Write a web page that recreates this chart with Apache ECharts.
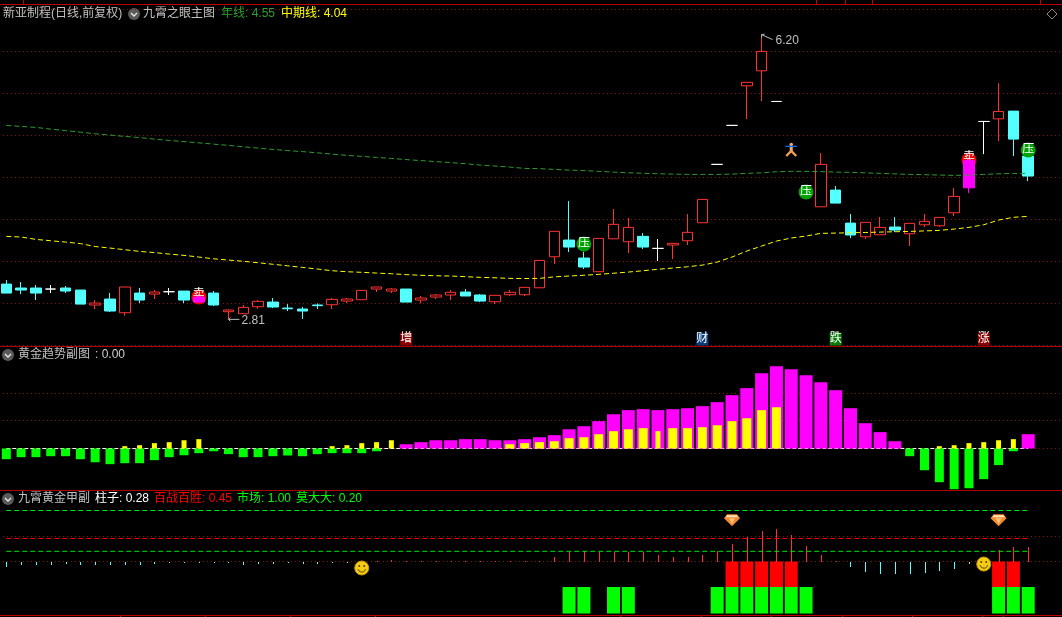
<!DOCTYPE html>
<html><head><meta charset="utf-8">
<style>html,body{margin:0;padding:0;background:#000;overflow:hidden}#c{width:1062px;height:617px}</style>
<script src="https://cdn.jsdelivr.net/npm/echarts@6/dist/echarts.min.js"></script>
</head><body><div id="c"></div>
<script>
// ---------- candles (price) ----------
const opens  = [3.23,3.183,3.183,3.171,3.183,3.159,2.981,3.052,2.889,3.123,3.111,3.139,3.147,3.076,3.123,2.901,2.877,2.96,3.016,2.945,2.933,2.981,2.984,3.028,3.044,3.171,3.147,3.171,3.04,3.076,3.1,3.135,3.1,3.02,3.103,3.103,3.186,3.555,3.754,3.54,3.377,3.769,3.734,3.798,3.655,3.695,3.746,3.96,4.655,5.119,5.59,5.769,5.404,4.869,4.29,4.15,4.349,3.956,3.793,3.817,3.909,3.829,3.936,3.924,4.079,4.702,5.166,5.197,5.289,4.754];
const closes = [3.123,3.159,3.123,3.171,3.147,2.992,3.004,2.909,3.195,3.04,3.135,3.139,3.04,3.016,2.981,2.921,2.953,3.025,2.957,2.936,2.909,2.973,3.048,3.052,3.155,3.195,3.171,3.016,3.064,3.1,3.132,3.088,3.028,3.096,3.132,3.191,3.512,3.858,3.671,3.433,3.774,3.941,3.905,3.671,3.655,3.715,3.846,4.238,4.655,5.119,5.631,6.0,5.404,4.869,4.29,4.655,4.194,3.814,3.965,3.905,3.873,3.953,3.977,4.024,4.274,4.376,5.166,5.285,4.956,4.516];
const lows   = [3.123,3.111,3.04,3.123,3.123,2.992,2.933,2.897,2.853,3.004,3.052,3.1,3.004,3.016,2.969,2.81,2.877,2.936,2.945,2.909,2.814,2.933,2.933,3.004,3.044,3.135,3.123,3.016,3.001,3.052,3.04,3.088,3.016,2.992,3.088,3.088,3.186,3.468,3.611,3.409,3.377,3.769,3.599,3.647,3.504,3.528,3.695,3.96,4.655,5.119,5.194,5.408,5.404,4.869,4.29,4.15,4.194,3.778,3.766,3.817,3.849,3.683,3.909,3.909,4.04,4.313,4.777,4.932,4.754,4.456];
const highs  = [3.278,3.254,3.219,3.219,3.207,3.159,3.04,3.123,3.195,3.183,3.159,3.183,3.147,3.09,3.147,2.933,2.981,3.04,3.064,2.992,2.957,3.0,3.064,3.064,3.155,3.195,3.183,3.171,3.088,3.111,3.159,3.171,3.111,3.096,3.159,3.191,3.512,3.858,4.218,3.615,3.774,4.123,4.016,3.837,3.766,3.715,4.063,4.238,4.655,5.119,5.631,6.20,5.404,4.869,4.29,4.789,4.397,4.063,3.965,4.028,4.028,3.953,4.063,4.024,4.373,4.72,5.166,5.622,5.289,4.80];
const magentaCandles = [13,65];
const blueCandles = [53];
// ---------- moving averages ----------
const yearLine = [5.119,5.107,5.095,5.075,5.057,5.039,5.019,5.004,4.988,4.974,4.956,4.94,4.926,4.911,4.896,4.881,4.864,4.849,4.833,4.819,4.807,4.793,4.777,4.762,4.75,4.738,4.726,4.712,4.7,4.688,4.676,4.663,4.647,4.635,4.623,4.607,4.604,4.595,4.587,4.581,4.572,4.563,4.555,4.549,4.544,4.539,4.536,4.536,4.536,4.539,4.548,4.555,4.567,4.572,4.572,4.569,4.563,4.56,4.554,4.548,4.542,4.536,4.532,4.528,4.524,4.528,4.536,4.543,4.547,4.548];
const midLine  = [3.798,3.79,3.762,3.746,3.73,3.712,3.677,3.659,3.639,3.619,3.605,3.587,3.572,3.552,3.531,3.516,3.501,3.484,3.466,3.447,3.429,3.409,3.389,3.377,3.37,3.361,3.353,3.342,3.335,3.329,3.326,3.318,3.31,3.305,3.298,3.296,3.298,3.316,3.326,3.335,3.346,3.359,3.373,3.389,3.406,3.421,3.436,3.456,3.492,3.552,3.623,3.683,3.742,3.778,3.802,3.834,3.837,3.841,3.844,3.849,3.853,3.857,3.863,3.869,3.885,3.905,3.936,3.992,4.025,4.036];
// ---------- 黄金趋势 ----------
const trendMagenta = [null,null,null,null,null,null,null,null,null,null,null,null,null,null,null,null,null,null,null,null,null,null,null,null,null,null,null,3.1,4.6,6,6,6.8,6.8,6,6,6.8,8.2,9.7,14,16.2,19.9,24.9,27.9,28.6,27.9,28.6,29.3,30.8,33.7,38.8,43.9,54.8,59.9,57.7,53.3,48.2,42.4,29.3,18.4,11.9,5.3,null,null,null,null,null,null,null,null,10.4];
const trendGreen = [-7.8,-6.3,-6.3,-5.6,-5.6,-7.8,-10,-11.4,-10.7,-10.7,-8.5,-6.3,-4.9,-3.4,-2,-4.1,-6.3,-6.3,-5.6,-5.1,-5.6,-4.1,-3.4,-3.4,-3.4,-2,null,null,null,null,null,null,null,null,null,null,null,null,null,null,null,null,null,null,null,null,null,null,null,null,null,null,null,null,null,null,null,null,null,null,null,-5.6,-15.8,-24.5,-29.6,-28.9,-22.3,-12.1,-2,null];
const trendYellowWide = [null,null,null,null,null,null,null,null,null,null,null,null,null,null,null,null,null,null,null,null,null,null,null,null,null,null,null,null,null,null,null,null,null,null,3.1,3.9,4.6,5.3,7.5,8.2,10.4,12.6,14,14.8,null,14.8,14.8,15.5,16.9,19.9,22,27.9,30,null,null,null,null,null,null,null,null,null,null,null,null,null,null,null,null,null];
const trendYellowNarrow = [null,null,null,null,null,null,null,null,1.7,2.4,3.9,4.6,6,6.8,null,null,null,null,null,null,null,null,1.7,2.4,3.9,4.6,6,null,null,null,null,null,null,null,null,null,null,null,null,null,null,null,null,null,12.6,null,null,null,null,null,null,null,null,null,null,null,null,null,null,null,null,null,null,1.7,2.4,3.9,4.6,6,6.8,null];
// ---------- 九霄黄金甲 ----------
const pillar = [-0.11,-0.07,-0.07,-0.07,-0.05,-0.07,-0.07,-0.07,-0.07,-0.07,-0.05,-0.03,-0.015,-0.015,-0.015,-0.03,-0.07,-0.05,-0.05,-0.03,-0.05,-0.05,-0.03,-0.015,0.005,0.01,0.02,0.01,0.01,0.01,0.01,0.01,0.01,0.01,0.01,0.01,0.01,0.08,0.18,0.215,0.18,0.18,0.18,0.18,0.12,0.08,0.08,0.12,0.21,0.35,0.49,0.605,0.645,0.51,0.31,0.12,0.01,-0.1,-0.215,-0.254,-0.254,-0.254,-0.234,-0.195,-0.137,-0.04,0.03,0.234,0.293,0.28];
const redBlockIdx = [49,50,51,52,53,67,68];
const greenBlockIdx = [38,39,41,42,48,49,50,51,52,53,54,67,68,69];
const marketLevel = 1.00, winLevel = 0.45, momoLevel = 0.20;
// ---------- markers ----------
const pressureMarks = [[39,3.707],[54,4.326],[69,4.826]];
const sellMarks = [[13,3.076],[65,4.706]];
const tagLabels = [[27,2.576,'增','#8b0000'],[47,2.576,'财','#0b3d78'],[56,2.576,'跌','#0a7d0a'],[66,2.576,'涨','#8b0000']];
const extremes = [[15,2.81,0],[51,6.20,1]];
const icons = [[24,-0.127,0],[66,-0.05,0],[49,0.81,1],[67,0.81,1],[53,4.826,2]];

const N = 72;
const categories = []; for (let i=0;i<N;i++) categories.push('D'+(i+1));
const FONT = '"Liberation Sans","Noto Sans CJK SC",sans-serif';
const RED='#ff3232', CYAN='#54ffff', WHITE='#ffffff', MAG='#ff00ff', BLUE='#0a6cff';
const GRID_DOT={color:'#8a1414',width:1,type:[1,3]};

function candleItem(o,i){
  const c=closes[i];
  let col, fill;
  if(magentaCandles.includes(i)){col=MAG;fill=MAG;}
  else if(blueCandles.includes(i)){col=BLUE;fill=BLUE;}
  else if(c>o){col=RED;fill='#000';}
  else if(c<o){col=CYAN;fill=CYAN;}
  else {col=WHITE;fill=WHITE;}
  return {value:[o,c,lows[i],highs[i]],itemStyle:{color:fill,color0:fill,borderColor:col,borderColor0:col,borderColorDoji:col}};
}
const candleData = opens.map(candleItem);
const left=-1.1, width=N*14.81;
const mk=(g)=>({type:'category',gridIndex:g,data:categories,show:false,boundaryGap:true});
const ya=(g,min,max,extra)=>Object.assign({type:'value',gridIndex:g,min,max,axisLabel:{show:false},axisLine:{show:false},axisTick:{show:false},splitLine:{show:false}},extra||{});
const dotted=(vals)=>({silent:true,symbol:'none',z:0,label:{show:false},lineStyle:GRID_DOT,animation:false,data:vals.map(v=>({yAxis:v}))});
const flat=(v,xi,yi,color,z)=>({type:'line',xAxisIndex:xi,yAxisIndex:yi,data:[[0,v],[69,v]],symbol:'none',lineStyle:{color,width:1,type:[5,3]},z,silent:true,animation:false});

function blocks(idx,val){const a=new Array(70).fill(null);idx.forEach(i=>a[i]=val);return a;}
const baseOnly = greenBlockIdx.filter(i=>!redBlockIdx.includes(i));

function renderPillar(params,api){
  const v=api.value(1), a=api.coord([api.value(0),0]), b=api.coord([api.value(0),v]);
  const x=Math.round(a[0]), y1=Math.round(Math.min(a[1],b[1])), y2=Math.round(Math.max(a[1],b[1]));
  return {type:'rect',shape:{x:x,y:y1,width:1,height:Math.max(1,y2-y1)},style:{fill:v>=0?RED:CYAN}};
}
function renderIcon(params,api){
  const p=api.coord([api.value(0),api.value(1)]), k=api.value(2), x=p[0], y=p[1];
  if(k===0){
    return {type:'group',children:[
      {type:'circle',shape:{cx:x,cy:y,r:7},style:{fill:'#f5cc14',stroke:'#c79a10',lineWidth:1}},
      {type:'circle',shape:{cx:x-2.5,cy:y-2,r:1},style:{fill:'#5a4000'}},
      {type:'circle',shape:{cx:x+2.5,cy:y-2,r:1},style:{fill:'#5a4000'}},
      {type:'arc',shape:{cx:x,cy:y,r:4,startAngle:0.3,endAngle:Math.PI-0.3},style:{stroke:'#5a4000',fill:null,lineWidth:1}}
    ]};
  }
  if(k===1){
    return {type:'group',children:[
      {type:'polygon',shape:{points:[[x-8,y-2],[x-5,y-6],[x+5,y-6],[x+8,y-2],[x,y+6]]},style:{fill:'#f08a30'}},
      {type:'polygon',shape:{points:[[x-5,y-5],[x+5,y-5],[x+6,y-3],[x-6,y-3]]},style:{fill:'#ffe2b8'}},
      {type:'polygon',shape:{points:[[x-3,y-2],[x+3,y-2],[x,y+4]]},style:{fill:'#ffc078'}}
    ]};
  }
  return {type:'group',children:[
    {type:'circle',shape:{cx:x,cy:y-5.5,r:1.8},style:{fill:'#f2a860'}},
    {type:'line',shape:{x1:x,y1:y-3,x2:x,y2:y+1.5},style:{stroke:'#f2b070',lineWidth:3}},
    {type:'polyline',shape:{points:[[x-5,y+6],[x,y+1],[x+5,y+6]]},style:{stroke:'#f0a050',fill:null,lineWidth:2.4}},
    {type:'line',shape:{x1:x-5.5,y1:y-3.7,x2:x+5.5,y2:y-3.7},style:{stroke:BLUE,lineWidth:1}}
  ]};
}
function renderExtreme(params,api){
  const v=api.value(1), p=api.coord([api.value(0),v]), up=api.value(2)===1, x=p[0], y=p[1];
  const ex=x+11, ey=up?y+5:y;
  return {type:'group',children:[
    {type:'line',shape:{x1:x,y1:y,x2:ex,y2:ey},style:{stroke:'#b8b8b8',lineWidth:1}},
    {type:'polyline',shape:{points:up?[[x+3,y-0.5],[x,y],[x,y+3]]:[[x+2,y-2],[x,y],[x+2,y+2]]},style:{stroke:'#b8b8b8',fill:null,lineWidth:1}},
    {type:'text',x:ex+(up?3:2),y:ey+1,style:{text:v.toFixed(2),fill:'#c0c0c0',font:'12px '+FONT,verticalAlign:'middle'}}
  ]};
}

function txt(x,y,text,fill){return {type:'text',x,y,z:50,style:{text,fill,font:'12px '+FONT,verticalAlign:'middle'}};}
function chev(x,y){return {type:'group',z:50,children:[
  {type:'circle',shape:{cx:x,cy:y,r:6},style:{fill:'#5a5a5a'}},
  {type:'polyline',shape:{points:[[x-3,y-1],[x,y+2],[x+3,y-1]]},style:{stroke:'#e8e8e8',fill:null,lineWidth:1.4}}
]};}
function hline(y,color){return {type:'rect',z:40,shape:{x:0,y:y,width:1062,height:1},style:{fill:color}};}
function tick(x,y){return {type:'rect',z:40,shape:{x,y,width:1,height:2},style:{fill:'#c00000'}};}
const BORDER='#b00000';
const graphics=[
  hline(4,'#c00000'),hline(346,BORDER),hline(490,BORDER),hline(615,'#c00000'),
  tick(23,2),tick(23,0),tick(816,2),tick(816,0),tick(845,2),tick(845,0),tick(872,2),tick(872,0),tick(1040,2),tick(1040,0),
  ...[120,205,290,375,620,701,771,842,912,982,1003].map(x=>tick(x,616)),
  txt(3,14,'新亚制程(日线,前复权)','#c0c0c0'),chev(134,14),
  txt(143,14,'九霄之眼主图','#c0c0c0'),txt(221,14,'年线: 4.55','#2e9e2e'),txt(281,14,'中期线: 4.04','#ffff00'),
  {type:'polygon',z:50,shape:{points:[[1052,9],[1057,14],[1052,19],[1047,14]]},style:{fill:null,stroke:'#8a8a8a',lineWidth:1}},
  chev(8,355),txt(18,355,'黄金趋势副图','#c0c0c0'),txt(95,355,': 0.00','#d0d0d0'),
  chev(8,499),txt(18,499,'九霄黄金甲副','#c0c0c0'),txt(95,499,'柱子: 0.28','#ffffff'),
  txt(154,499,'百战百胜: 0.45','#ff0000'),txt(237,499,'市场: 1.00','#00ff00'),txt(296,499,'莫大大: 0.20','#00ff00')
];

const option={
  backgroundColor:'#000',animation:false,
  grid:[
    {left,width,top:9.4,height:336,outerBoundsMode:'none'},
    {left,width,top:348.125,height:141.625,outerBoundsMode:'none'},
    {left,width,top:491.375,height:123.7,outerBoundsMode:'none'}
  ],
  xAxis:[mk(0),mk(1),mk(1),mk(1),mk(2)],
  yAxis:[
    ya(0,2.5,6.5,{interval:0.5,splitLine:{show:true,lineStyle:GRID_DOT}}),
    ya(1,-30,73),
    ya(2,-1.05,1.375)
  ],
  series:[
    // main panel
    {type:'scatter',name:'卖',xAxisIndex:0,yAxisIndex:0,data:sellMarks,symbol:'circle',symbolSize:15,z:1,silent:true,
     itemStyle:{color:'#f00000',opacity:1},label:{show:true,position:'inside',formatter:'卖',color:'#fff',fontSize:12,fontFamily:FONT,offset:[0,-2]}},
    {type:'candlestick',name:'K线',xAxisIndex:0,yAxisIndex:0,data:candleData,barWidth:11,z:3,silent:true,
     itemStyle:{borderWidth:1}},
    {type:'line',name:'年线',xAxisIndex:0,yAxisIndex:0,data:yearLine,symbol:'none',z:4,silent:true,lineStyle:{color:'#2e9e2e',width:1,type:[5,3]}},
    {type:'line',name:'中期线',xAxisIndex:0,yAxisIndex:0,data:midLine,symbol:'none',z:4,silent:true,lineStyle:{color:'#ffff00',width:1,type:[5,3]}},
    {type:'scatter',name:'压',xAxisIndex:0,yAxisIndex:0,data:pressureMarks,symbol:'circle',symbolSize:15,z:5,silent:true,
     itemStyle:{color:'#00a000',opacity:1},label:{show:true,position:'inside',formatter:'压',color:'#fff',fontSize:12,fontFamily:FONT}},
    {type:'scatter',name:'标签',xAxisIndex:0,yAxisIndex:0,z:5,silent:true,symbol:'rect',symbolSize:[12,13],
     data:tagLabels.map(t=>({value:[t[0],t[1]],itemStyle:{color:t[3],opacity:1},label:{formatter:t[2]}})),
     label:{show:true,position:'inside',color:'#fff',fontSize:12,fontFamily:FONT}},
    {type:'custom',name:'极值',xAxisIndex:0,yAxisIndex:0,data:extremes,renderItem:renderExtreme,z:6,silent:true,clip:false,encode:{x:0,y:1}},
    {type:'custom',name:'图标',xAxisIndex:0,yAxisIndex:0,data:icons.filter(d=>d[2]===2),renderItem:renderIcon,z:6,silent:true,clip:false,encode:{x:0,y:1}},
    // trend panel
    {type:'line',name:'基线',xAxisIndex:1,yAxisIndex:1,data:[[0,0],[69,0]],symbol:'none',z:1,silent:true,lineStyle:{color:'#ffffff',width:1,type:[4,2]},
     markLine:dotted([0,20.36,40])},
    {type:'bar',name:'趋势',xAxisIndex:1,yAxisIndex:1,data:trendMagenta,barWidth:13,z:2,silent:true,itemStyle:{color:MAG}},
    {type:'bar',name:'绿柱',xAxisIndex:2,yAxisIndex:1,data:trendGreen,barWidth:9,barGap:'-100%',z:3,silent:true,itemStyle:{color:'#00ff00'}},
    {type:'bar',name:'黄柱',xAxisIndex:2,yAxisIndex:1,data:trendYellowWide,barWidth:9,barGap:'-100%',z:4,silent:true,itemStyle:{color:'#ffff00'}},
    {type:'bar',name:'黄细',xAxisIndex:3,yAxisIndex:1,data:trendYellowNarrow,barWidth:5,z:4,silent:true,itemStyle:{color:'#ffff00'}},
    // jiaxiao panel
    Object.assign(flat(marketLevel,4,2,'#00e800',4),{name:'市场',markLine:dotted([0,0.5])}),
    flat(winLevel,4,2,'#ff0000',4),
    flat(momoLevel,4,2,'#00e800',4),
    {type:'bar',name:'底',xAxisIndex:4,yAxisIndex:2,stack:'b',data:blocks(baseOnly,-0.5),barWidth:13,z:2,silent:true,itemStyle:{color:'rgba(0,0,0,0)'}},
    {type:'bar',name:'红块',xAxisIndex:4,yAxisIndex:2,stack:'b',data:blocks(redBlockIdx,-0.5),barWidth:13,z:2,silent:true,itemStyle:{color:'#ff0000'}},
    {type:'bar',name:'绿块',xAxisIndex:4,yAxisIndex:2,stack:'b',data:blocks(greenBlockIdx,-0.52),barWidth:13,z:2,silent:true,itemStyle:{color:'#00ff00'}},
    {type:'custom',name:'柱子',xAxisIndex:4,yAxisIndex:2,data:pillar.map((v,i)=>[i,v]),renderItem:renderPillar,z:3,silent:true,encode:{x:0,y:1}},
    {type:'custom',name:'图标2',xAxisIndex:4,yAxisIndex:2,data:icons.filter(d=>d[2]!==2),renderItem:renderIcon,z:6,silent:true,clip:false,encode:{x:0,y:1}}
  ],
  graphic:graphics
};
const chart=echarts.init(document.getElementById('c'),null,{renderer:'canvas',width:1062,height:617,devicePixelRatio:1});
chart.setOption(option);
</script></body></html>
